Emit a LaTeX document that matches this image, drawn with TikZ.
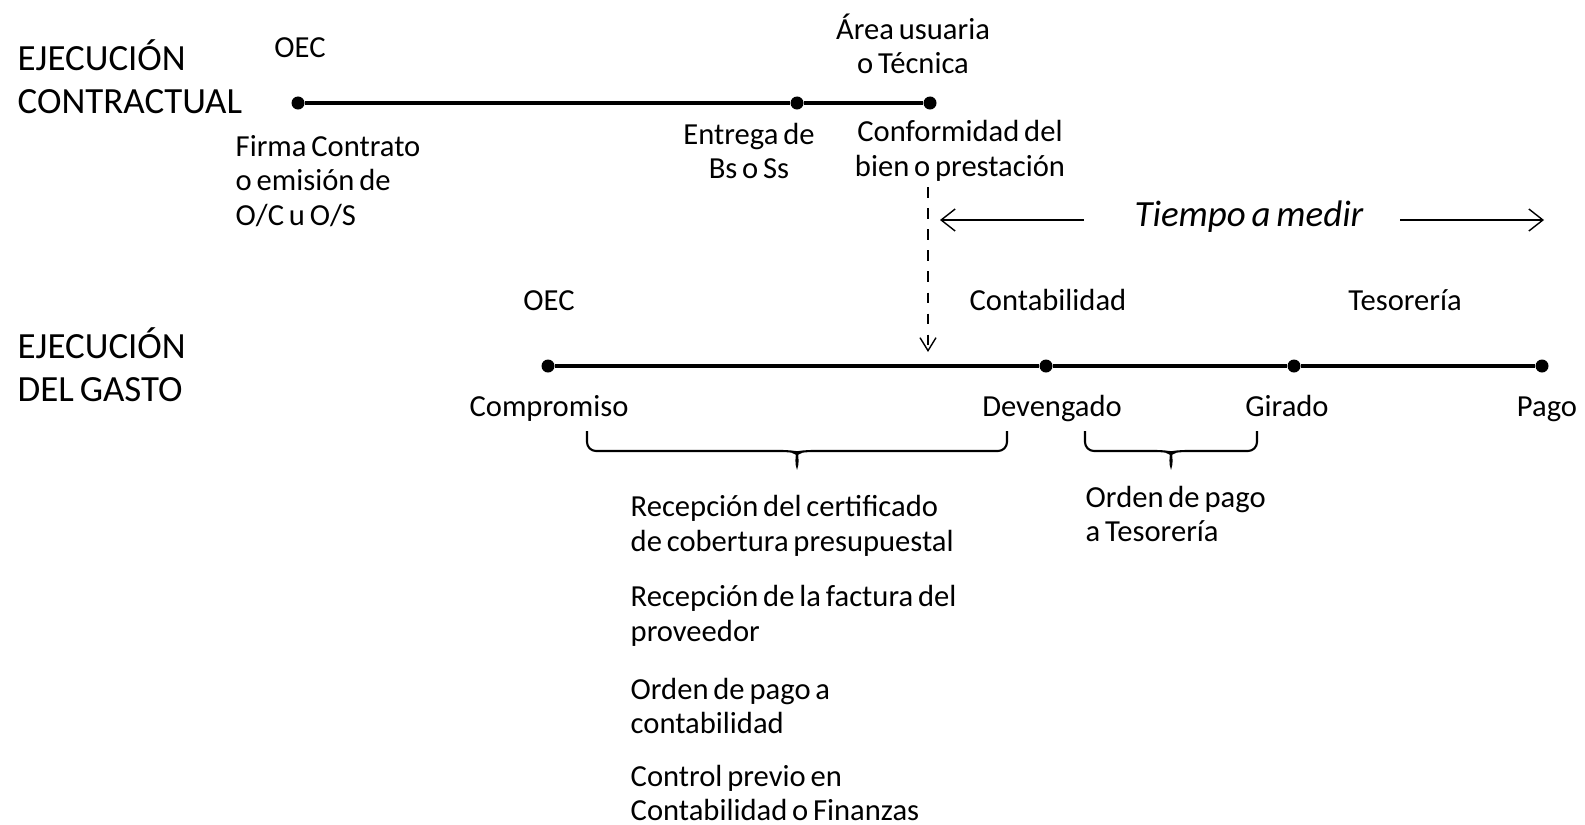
\documentclass[tikz,border=0pt]{standalone}
\usepackage{fontspec}
\setmainfont{Carlito}[WordSpace=0.7]
\usetikzlibrary{arrows.meta, calc}

\begin{document}
\begin{tikzpicture}[
    x=0.01cm, y=-0.01cm,
    dot/.style={circle, fill, inner sep=0pt, minimum size=1.3mm},
    timeline/.style={line width=1.1pt},
    lbl/.style={align=center, inner sep=0pt, font=\fontsize{8.7}{9.8}\selectfont},
    word/.style={lbl, text height=6.3pt, text depth=1.9pt},
    lbll/.style={lbl, align=left, anchor=west},
    phase/.style={align=left, anchor=west, inner sep=0pt, font=\fontsize{10.5}{12.2}\selectfont},
    span/.style={line width=0.6pt, rounded corners=0.9mm},
    thinarrow/.style={line width=0.4pt, -{Straight Barb[length=1.4mm, width=2.2mm]}}
]
\useasboundingbox (0,0) rectangle (1585,824);

% ejecucion contractual
\node[phase] (contr) at (17,77) {EJECUCIÓN\\CONTRACTUAL};

\node[dot] (c1) at (298,103) {};
\node[dot] (c2) at (797,103) {};
\node[dot] (c3) at (930,103) {};

\node[word] (oec1) at (300,50) {OEC};
\node[lbl] (area) at (913,44) {Área usuaria\\o Técnica};

\node[lbll] (firma) at (235,181) {Firma Contrato\\o emisión de\\O/C u O/S};
\node[lbl] (entrega) at (749,151) {Entrega de\\Bs o Ss};
\node[lbl] (conf) at (960,151) {Conformidad del\\bien o prestación};

\draw[timeline] (c1) -- (c2);
\draw[timeline] (c2) -- (c3);

% tiempo a medir
\node[lbl, font=\fontsize{10.5}{12}\itshape] (tiempo) at (1249,217) {Tiempo a medir};
\coordinate (t1) at (1084,220);
\coordinate (t2) at (940,220);
\coordinate (t3) at (1400,220);
\coordinate (t4) at (1544,220);
\draw[thinarrow] (t1) -- (t2);
\draw[thinarrow] (t3) -- (t4);

% ejecucion del gasto
\node[phase] (gasto) at (17,365) {EJECUCIÓN\\DEL GASTO};

\node[dot] (g1) at (548,366) {};
\node[dot] (g2) at (1046,366) {};
\node[dot] (g3) at (1294,366) {};
\node[dot] (g4) at (1542,366) {};

\draw[timeline] (g1) -- (g2);
\draw[timeline] (g2) -- (g3);
\draw[timeline] (g3) -- (g4);

\node[word] (oec2) at (549,303) {OEC};
\node[word] (conta) at (1048,303) {Contabilidad};
\node[word] (teso) at (1405,303) {Tesorería};

\node[word] (compr) at (549,409) {Compromiso};
\node[word] (deven) at (1052,409) {Devengado};
\node[word] (girado) at (1287,409) {Girado};
\node[word] (pago) at (1547,409) {Pago};

% conformidad -> gasto
\coordinate (d1) at (928,187);
\coordinate (d2) at (928,352);
\draw[dashed, line width=0.4pt, -{Straight Barb[length=1.3mm, width=1.6mm]}] (d1) -- (d2);

% llaves
\coordinate (b1) at (587,431);
\coordinate (b2) at (1007,431);
\coordinate (k1) at (797,451);
\coordinate (tip1) at (797,471);
\draw[span] (b1) |- ($(k1)+(-6,0)$) .. controls ($(k1)+(-1,1)$) and ($(k1)+(-0.5,10)$) .. (tip1)
    .. controls ($(k1)+(0.5,10)$) and ($(k1)+(1,1)$) .. ($(k1)+(6,0)$) -| (b2);

\coordinate (b3) at (1085,431);
\coordinate (b4) at (1257,431);
\coordinate (k2) at (1171,451);
\coordinate (tip2) at (1171,471);
\draw[span] (b3) |- ($(k2)+(-6,0)$) .. controls ($(k2)+(-1,1)$) and ($(k2)+(-0.5,10)$) .. (tip2)
    .. controls ($(k2)+(0.5,10)$) and ($(k2)+(1,1)$) .. ($(k2)+(6,0)$) -| (b4);

\node[lbll] (cert) at (630,526) {Recepción del certificado\\de cobertura presupuestal};
\node[lbll] (fact) at (630,616) {Recepción de la factura del\\proveedor};
\node[lbll] (orden) at (630,706) {Orden de pago a\\contabilidad};
\node[lbll] (control) at (630,793) {Control previo en\\Contabilidad o Finanzas};

\node[lbll] (ordteso) at (1085,514) {Orden de pago\\a Tesorería};

\end{tikzpicture}
\end{document}
